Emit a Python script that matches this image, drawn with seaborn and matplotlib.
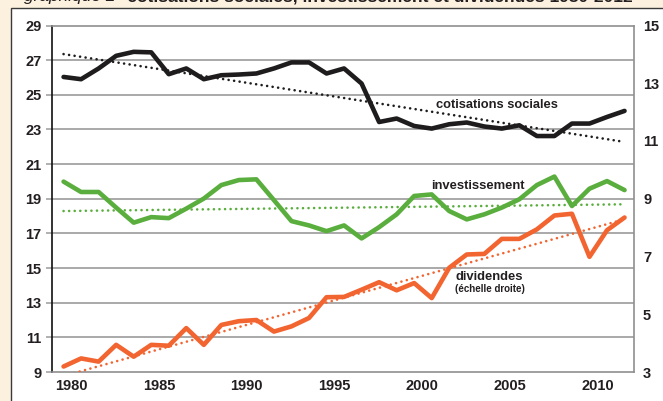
import matplotlib
matplotlib.use("Agg")
import matplotlib.pyplot as plt
import matplotlib.patches as mpatches
import matplotlib.transforms as mtransforms
import pandas as pd
import seaborn as sns

# Données (1980-2012)
annees = list(range(1980, 2013))

cotisations = [26.03, 25.90, 26.52, 27.25, 27.48, 27.45, 26.19, 26.52, 25.90, 26.13,
               26.17, 26.23, 26.52, 26.87, 26.87, 26.23, 26.52, 25.65, 23.43, 23.63,
               23.20, 23.05, 23.30, 23.40, 23.17, 23.05, 23.24, 22.62, 22.62, 23.34,
               23.34, 23.72, 24.07]

investissement = [19.99, 19.39, 19.39, 18.49, 17.62, 17.94, 17.88, 18.43, 19.01, 19.79,
                  20.08, 20.12, 18.92, 17.71, 17.46, 17.13, 17.46, 16.71, 17.36, 18.10,
                  19.16, 19.25, 18.29, 17.81, 18.10, 18.49, 18.97, 19.79, 20.28, 18.58,
                  19.58, 20.02, 19.50]

# dividendes : échelle droite
dividendes = [3.19, 3.47, 3.36, 3.94, 3.53, 3.94, 3.91, 4.52, 3.94, 4.63,
              4.76, 4.80, 4.40, 4.58, 4.87, 5.59, 5.60, 5.85, 6.11, 5.83,
              6.08, 5.56, 6.61, 7.07, 7.09, 7.61, 7.61, 7.94, 8.42, 8.48,
              6.99, 7.91, 8.35]

# droites de tendance (valeurs lues aux extrémités)
annees_tendance = [1980, 2012]
tendance_cotisations = [27.35, 22.28]
tendance_investissement = [18.29, 18.68]
tendance_dividendes = [2.86, 8.29]

ticks_gauche = [9, 11, 13, 15, 17, 19, 21, 23, 25, 27, 29]
ticks_droite = [3, 5, 7, 9, 11, 13, 15]
ticks_annees = [1980, 1985, 1990, 1995, 2000, 2005, 2010]

data = pd.DataFrame({"annee": annees, "cotisations": cotisations,
                     "investissement": investissement, "dividendes": dividendes})
tendances = pd.DataFrame({"annee": annees_tendance, "cotisations": tendance_cotisations,
                          "investissement": tendance_investissement,
                          "dividendes": tendance_dividendes})

NOIR = "#1e1c1d"
VERT = "#5aae3e"
ORANGE = "#f26430"
GRIS = "#a3a3a3"
TEXTE = "#231f20"
CREME = "#fcf1df"

sns.set_theme(style="white")
plt.rcParams["font.family"] = ["Liberation Sans", "DejaVu Sans"]

fig = plt.figure(figsize=(6.63, 4.01), dpi=100)
fig.patch.set_facecolor(CREME)

# cadre blanc du graphique
W, H = 663, 401
cadre = mpatches.Rectangle((11 / W, -0.1), 1.2, 1 - 8 / H + 0.1, transform=fig.transFigure,
                           facecolor="white", edgecolor="#3a3a3a", linewidth=1.0, zorder=-5)
fig.patches.append(cadre)

# titre (coupé en haut dans l'original)
fig.text(24 / W, 1 - 1.5 / H, "graphique 2", fontsize=12.5, style="italic",
         color=TEXTE, va="baseline", ha="left", zorder=-4)
fig.text(108 / W, 1 - 1.5 / H, "–  cotisations sociales, investissement et dividendes 1980-2012",
         fontsize=12.5, fontweight="bold", color=TEXTE, va="baseline", ha="left", zorder=-4)

ax = fig.add_axes([52 / W, (H - 372) / H, (634 - 52) / W, (372 - 25.5) / H])
ax.set_facecolor("white")
ax2 = ax.twinx()

# grille horizontale
for t in ticks_gauche[1:-1]:
    ax.axhline(t, color=GRIS, lw=1.3, zorder=1)

pointille = dict(linestyle=(0, (0.01, 2.1)), lw=1.9, dash_capstyle="round")

sns.lineplot(data=tendances, x="annee", y="cotisations", ax=ax, color=NOIR, zorder=2, **pointille)
sns.lineplot(data=tendances, x="annee", y="investissement", ax=ax, color=VERT, zorder=2, **pointille)
sns.lineplot(data=data, x="annee", y="cotisations", ax=ax, color=NOIR, lw=3.3, zorder=3)
sns.lineplot(data=data, x="annee", y="investissement", ax=ax, color=VERT, lw=3.3, zorder=3)

sns.lineplot(data=tendances, x="annee", y="dividendes", ax=ax2, color=ORANGE, zorder=2, **pointille)
sns.lineplot(data=data, x="annee", y="dividendes", ax=ax2, color=ORANGE, lw=3.3, zorder=3)

xmin, xmax = 1979.34, 2012.54
ax.set_xlim(xmin, xmax)
ax2.set_xlim(xmin, xmax)
ax.set_ylim(9, 29)
ax2.set_ylim(3, 15)

ax.set_yticks(ticks_gauche)
ax2.set_yticks(ticks_droite)
ax.set_xticks(ticks_annees)
ax.set_xlabel("")
ax.set_ylabel("")
ax2.set_ylabel("")
ax2.set_xlabel("")

police = dict(fontsize=10.5, fontweight="bold", color=TEXTE)
ax.set_yticklabels([str(t) for t in ticks_gauche], **police)
ax2.set_yticklabels([str(t) for t in ticks_droite], **police)
ax.set_xticklabels([str(t) for t in ticks_annees], **police)

ax.tick_params(axis="y", length=4, width=1.2, color=GRIS, pad=3.5, left=True)
ax.tick_params(axis="x", length=0, pad=5)
ax2.tick_params(axis="y", length=0, pad=6.5, right=True)

# décalage des années vers la droite, comme dans l'original
decalage = mtransforms.ScaledTranslation(8 / 100, 0, fig.dpi_scale_trans)
for lab in ax.get_xticklabels():
    lab.set_transform(lab.get_transform() + decalage)

for cote in ["top", "right", "bottom"]:
    ax.spines[cote].set_color("#8f8f8f")
    ax.spines[cote].set_linewidth(1.2)
ax.spines["left"].set_color("#111111")
ax.spines["left"].set_linewidth(1.2)
for cote in ax2.spines:
    ax2.spines[cote].set_visible(False)

# étiquettes des séries
ax.text(2004.7, 24.40, "cotisations sociales", ha="center", va="center",
        fontsize=9.3, fontweight="bold", color=TEXTE, zorder=5)
ax.text(2003.66, 19.72, "investissement", ha="center", va="center",
        fontsize=9.4, fontweight="bold", color=TEXTE, zorder=5)
ax.text(2004.3, 14.50, "dividendes", ha="center", va="center",
        fontsize=9.4, fontweight="bold", color=TEXTE, zorder=5)
ax.text(2004.33, 13.78, "(échelle droite)", ha="center", va="center",
        fontsize=7.0, fontweight="bold", color=TEXTE, zorder=5)

plt.savefig("out.png", dpi=100, facecolor=fig.get_facecolor())
